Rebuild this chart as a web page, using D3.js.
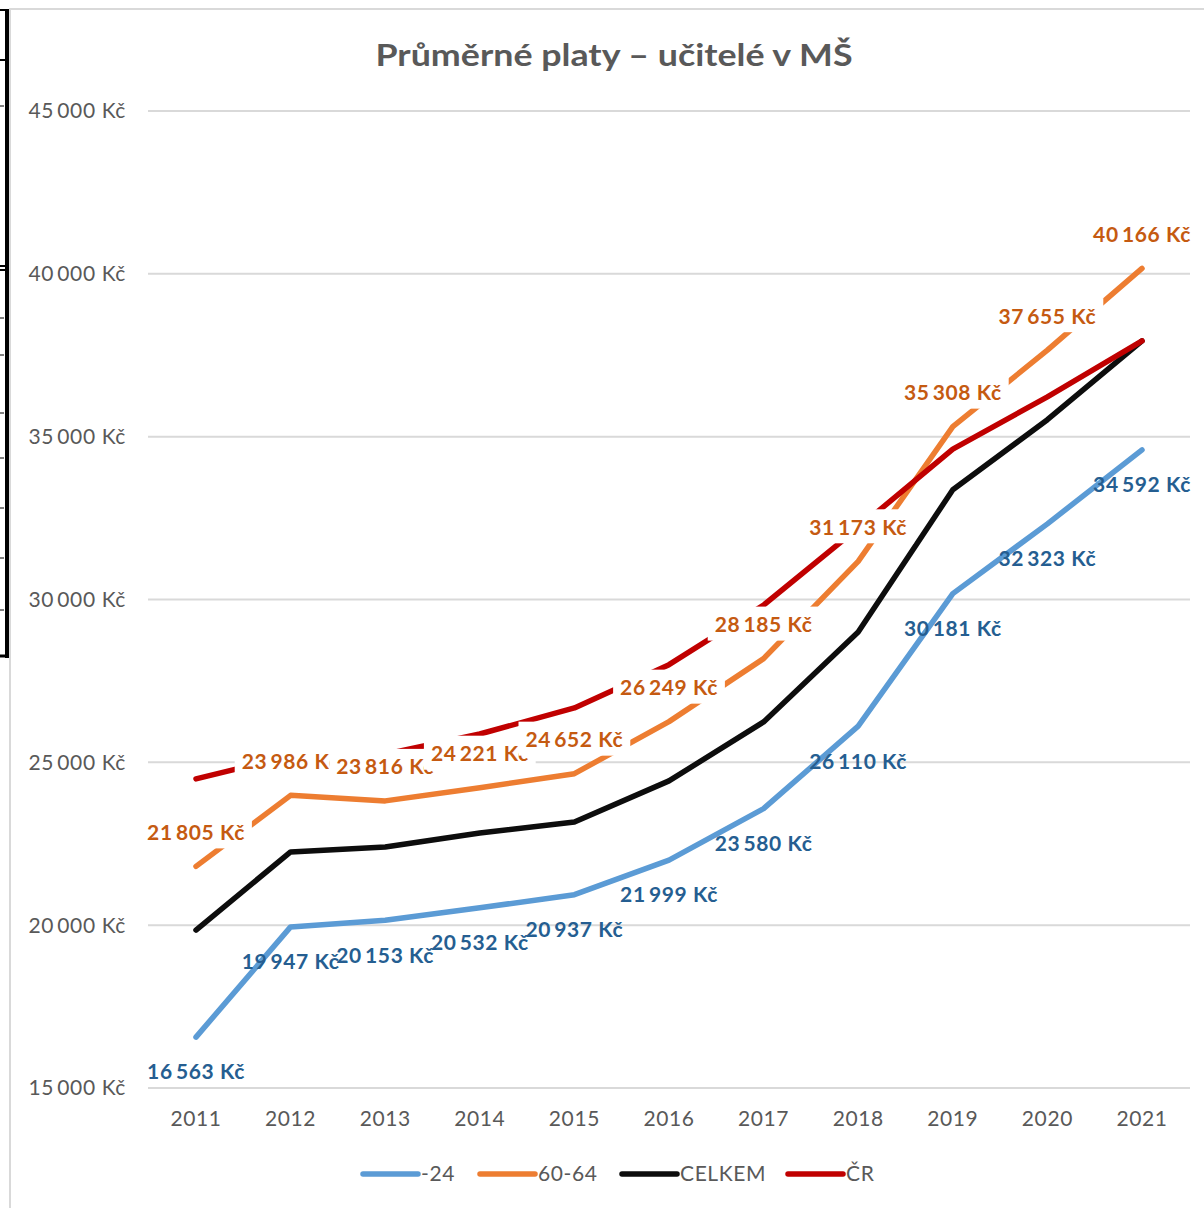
<!DOCTYPE html>
<html>
<head>
<meta charset="utf-8">
<style>
  body { margin: 0; background: #fff; }
  svg { display: block; font-family: Lato, "Open Sans", sans-serif; }
</style>
</head>
<body>
<script src="https://d3js.org/d3.v7.min.js"></script>
<script>

const years = ['2011', '2012', '2013', '2014', '2015', '2016', '2017', '2018', '2019', '2020', '2021'];
const young = [16563, 19947, 20153, 20532, 20937, 21999, 23580, 26110, 30181, 32323, 34592];
const senior = [21805, 23986, 23816, 24221, 24652, 26249, 28185, 31173, 35308, 37655, 40166];
const total = [19850, 22250, 22400, 22830, 23170, 24430, 26240, 29000, 33370, 35520, 37940];
const national = [24490, 25200, 25250, 25870, 26670, 28000, 29830, 32200, 34620, 36220, 37940];
const yTicks = [15000, 20000, 25000, 30000, 35000, 40000, 45000];
const seriesNames = ['-24', '60-64', 'CELKEM', 'ČR'];

const width = 1204;
const height = 1208;
const fontSize = 21;
const spacing = 0.6;

const colors = ['#5B9BD5', '#ED7D31', '#0D0D0D', '#C00000'];
const series = [young, senior, total, national].map((values, i) => ({
  name: seriesNames[i],
  color: colors[i],
  values: values
}));

const locale = d3.formatLocale({decimal: ',', thousands: '\u2009', grouping: [3], currency: ['', ' Kč']});
const kc = v => locale.format(',')(v) + ' Kč';

const svg = d3.select('body')
              .append('svg')
              .attr('width', width)
              .attr('height', height);

// chart frame
svg.append('path')
  .attr('d', 'M10,1208 V9 H1204')
  .attr('fill', 'none')
  .attr('stroke', '#D9D9D9')
  .attr('stroke-width', 2);

// black strip on the left edge of the screenshot
const strip = svg.append('g').attr('stroke', '#000').attr('fill', 'none');
strip.append('line').attr('x1', 7).attr('x2', 7).attr('y1', 10).attr('y2', 658).attr('stroke-width', 4);
[10, 60, 266, 270, 656].forEach(yy => {
  strip.append('line').attr('x1', 0).attr('x2', 9).attr('y1', yy).attr('y2', yy)
    .attr('stroke-width', yy === 656 ? 3 : 2);
});
[106, 318, 355, 413, 458, 508, 558, 610].forEach(yy => {
  strip.append('line').attr('x1', 0).attr('x2', 4).attr('y1', yy).attr('y2', yy).attr('stroke-width', 1);
});

const x = d3.scalePoint().domain(years).range([196, 1142]);
const y = d3.scaleLinear().domain([15000, 45000]).range([1088, 111]);

// gridlines
svg.append('g')
  .selectAll('line')
  .data(yTicks)
  .enter()
  .append('line')
    .attr('x1', 148)
    .attr('x2', 1190)
    .attr('y1', d => y(d))
    .attr('y2', d => y(d))
    .attr('stroke', '#D9D9D9')
    .attr('stroke-width', 2);

// y tick labels
svg.append('g')
  .selectAll('text')
  .data(yTicks)
  .enter()
  .append('text')
    .attr('x', 126)
    .attr('y', d => y(d))
    .attr('dy', '0.35em')
    .attr('text-anchor', 'end')
    .attr('fill', '#595959')
    .attr('font-size', fontSize)
    .attr('letter-spacing', spacing)
    .text(kc);

// x tick labels
svg.append('g')
  .selectAll('text')
  .data(years)
  .enter()
  .append('text')
    .attr('x', d => x(d))
    .attr('y', 1119)
    .attr('dy', '0.35em')
    .attr('text-anchor', 'middle')
    .attr('fill', '#595959')
    .attr('font-size', fontSize)
    .attr('letter-spacing', spacing)
    .text(d => d);

// title
svg.append('text')
  .attr('x', 614)
  .attr('y', 55)
  .attr('dy', '0.35em')
  .attr('text-anchor', 'middle')
  .attr('fill', '#595959')
  .attr('font-size', 31)
  .attr('font-weight', 'bold')
  .attr('textLength', 477)
  .attr('lengthAdjust', 'spacingAndGlyphs')
  .text('Průměrné platy – učitelé v MŠ');

// lines
const line = d3.line()
  .x((d, i) => x(years[i]))
  .y(d => y(d));

svg.append('g')
  .selectAll('path')
  .data(series)
  .enter()
  .append('path')
    .attr('d', s => line(s.values))
    .attr('fill', 'none')
    .attr('stroke', s => s.color)
    .attr('stroke-width', 5.5)
    .attr('stroke-linejoin', 'round')
    .attr('stroke-linecap', 'round');

// labels of the youngest group, below the points
svg.append('g')
  .selectAll('text')
  .data(young)
  .enter()
  .append('text')
    .attr('x', (d, i) => x(years[i]))
    .attr('y', d => y(d) + 35)
    .attr('dy', '0.35em')
    .attr('text-anchor', 'middle')
    .attr('fill', '#255E91')
    .attr('font-size', fontSize)
    .attr('font-weight', 'bold')
    .attr('letter-spacing', spacing)
    .text(kc);

// labels of the oldest group, above the points, on white boxes
const seniorLabels = svg.append('g');
senior.forEach((d, i) => {
  const g = seniorLabels.append('g')
    .attr('transform', `translate(${x(years[i])},${y(d) - 34})`);
  const t = g.append('text')
    .attr('dy', '0.35em')
    .attr('text-anchor', 'middle')
    .attr('fill', '#C55A11')
    .attr('font-size', fontSize)
    .attr('font-weight', 'bold')
    .attr('letter-spacing', spacing)
    .text(kc(d));
  const w = t.node().getComputedTextLength();
  g.insert('rect', 'text')
    .attr('x', -w / 2 - 7)
    .attr('y', -18)
    .attr('width', w + 14)
    .attr('height', 34)
    .attr('fill', '#fff');
});

// legend
const legendX = [363, 480, 622, 788];
const legend = svg.append('g')
  .selectAll('g')
  .data(series)
  .enter()
  .append('g')
    .attr('transform', (s, i) => `translate(${legendX[i]},1174)`);

legend.append('line')
  .attr('x1', 0)
  .attr('x2', 55)
  .attr('stroke', s => s.color)
  .attr('stroke-width', 5.5)
  .attr('stroke-linecap', 'round');

legend.append('text')
  .attr('x', 58)
  .attr('dy', '0.35em')
  .attr('fill', '#595959')
  .attr('font-size', fontSize)
  .attr('letter-spacing', spacing)
  .text(s => s.name);

</script>
</body>
</html>
